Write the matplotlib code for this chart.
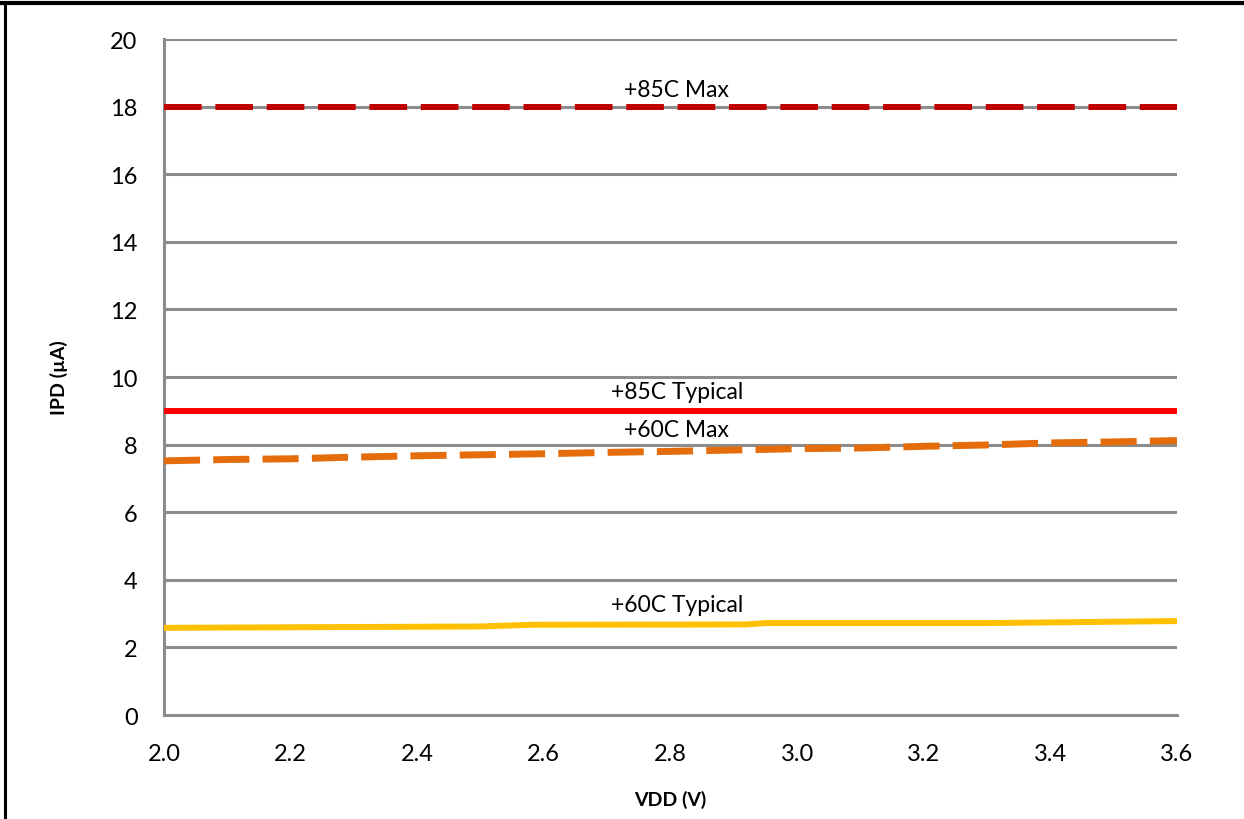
import numpy as np
import matplotlib
matplotlib.use('Agg')
import matplotlib.pyplot as plt
from matplotlib.lines import Line2D

# 数据
vdd = [2.0, 2.1, 2.2, 2.3, 2.4, 2.5, 2.6, 2.7, 2.8, 2.9, 3.0, 3.1, 3.2, 3.3, 3.4, 3.5, 3.6]
max_85 = [18.0] * len(vdd)
typ_85 = [9.0] * len(vdd)
max_60 = [7.52, 7.56, 7.58, 7.63, 7.67, 7.70, 7.73, 7.77, 7.80, 7.84, 7.88, 7.90, 7.95, 7.99, 8.05, 8.08, 8.12]
vdd_typ60 = [2.0, 2.5, 2.58, 2.92, 2.95, 3.3, 3.6]
typ_60 = [2.58, 2.62, 2.67, 2.68, 2.72, 2.72, 2.78]

labels = ['+85C Max', '+85C Typical', '+60C Max', '+60C Typical']
label_y = [18.5, 9.56, 8.46, 3.28]

yticks = [0, 2, 4, 6, 8, 10, 12, 14, 16, 18, 20]
xticks = [2.0, 2.2, 2.4, 2.6, 2.8, 3.0, 3.2, 3.4, 3.6]

plt.rcParams['font.family'] = ['Lato', 'DejaVu Sans']

fig = plt.figure(figsize=(12.44, 8.20), dpi=100)
ax = fig.add_axes([0.1318, 0.1268, 0.8143, 0.8244])

# 网格
for y in yticks[1:]:
    ax.axhline(y, color='#8c8c8c', lw=2.2, zorder=1)

ax.plot(vdd, max_85, color='#c00000', lw=4.3, dashes=(6.3, 2.3), zorder=3)
ax.plot(vdd, typ_85, color='#ff0000', lw=4.3, zorder=3)
ax.plot(vdd, max_60, color='#e46c0a', lw=5.0, dashes=(5.2, 1.9), zorder=3)
ax.plot(vdd_typ60, typ_60, color='#ffc000', lw=4.3, zorder=3)

for t, y in zip(labels, label_y):
    ax.text(2.81, y, t, ha='center', va='center', fontsize=16.5, zorder=4)

ax.set_xlim(2.0, 3.6)
ax.set_ylim(0, 20)
ax.set_xticks(xticks)
ax.set_xticklabels(['{:.1f}'.format(v) for v in xticks])
ax.set_yticks(yticks)
ax.tick_params(length=0, labelsize=17)
ax.tick_params(axis='x', pad=20)
ax.tick_params(axis='y', pad=19)

for s in ['top', 'right']:
    ax.spines[s].set_visible(False)
for s in ['left', 'bottom']:
    ax.spines[s].set_color('#8c8c8c')
    ax.spines[s].set_linewidth(2.2)

ax.set_xlabel('VDD (V)', fontsize=14, fontweight='bold', labelpad=19)
ax.set_ylabel('IPD (µA)', fontsize=14, fontweight='bold', labelpad=30)

# 外框
fig.add_artist(Line2D([0, 1], [0.995, 0.995], color='black', lw=3, transform=fig.transFigure))
fig.add_artist(Line2D([0.004, 0.004], [0, 0.995], color='black', lw=2.2, transform=fig.transFigure))

fig.savefig('out.png', dpi=100)
